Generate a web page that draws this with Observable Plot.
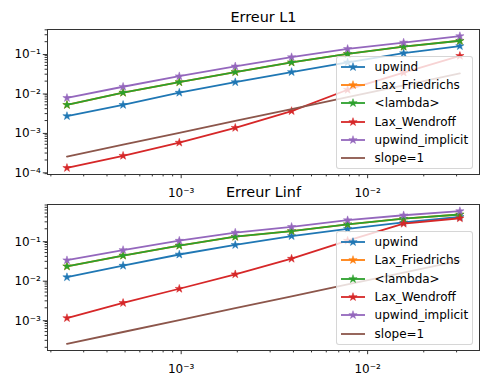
<!DOCTYPE html>
<html><head><meta charset="utf-8">
<script src="https://cdn.jsdelivr.net/npm/d3@7"></script>
<script src="https://cdn.jsdelivr.net/npm/@observablehq/plot@0.6"></script>
<style>
body{margin:0;background:#fff;}
#wrap{position:relative;width:485px;height:383px;font-family:"DejaVu Sans",sans-serif;overflow:hidden;}
#wrap svg.pl{position:absolute;left:0;}
.legend{position:absolute;box-sizing:border-box;border:1px solid rgba(204,204,204,0.8);border-radius:3px;background:rgba(255,255,255,0.8);font-size:12px;color:#000;padding:1px 0 0 4px;}
.legend .row{height:18.3px;display:flex;align-items:center;white-space:nowrap;}
.legend svg{margin-right:9.6px;flex:none;}
</style></head><body><div id="wrap"></div>
<script>
// grid spacing h (x axis)
const h = [0.000244, 0.000488, 0.000977, 0.00195, 0.00391, 0.00781, 0.0156, 0.03125];
const seriesNames = ["upwind", "Lax_Friedrichs", "<lambda>", "Lax_Wendroff", "upwind_implicit", "slope=1"];
const colors = ["#1f77b4", "#ff7f0e", "#2ca02c", "#d62728", "#9467bd", "#8c564b"];
const hasMarker = [true, true, true, true, true, false];

// Erreur L1
const l1Upwind   = [0.0026, 0.0050, 0.0102, 0.0188, 0.034, 0.060, 0.102, 0.155];
const l1LaxFr    = [0.0050, 0.0102, 0.0188, 0.034, 0.0596, 0.098, 0.150, 0.211];
const l1Lambda   = [0.0050, 0.0102, 0.0188, 0.034, 0.0596, 0.098, 0.150, 0.211];
const l1LaxWen   = [0.000126, 0.000256, 0.000552, 0.00131, 0.00348, 0.0121, 0.033, 0.0875];
const l1Implicit = [0.0075, 0.0144, 0.0266, 0.0473, 0.081, 0.131, 0.190, 0.277];
const l1Slope    = [0.000244, 0.000488, 0.000977, 0.00195, 0.00391, 0.00781, 0.0156, 0.03125];

// Erreur Linf
const liUpwind   = [0.0119, 0.0233, 0.0447, 0.078, 0.131, 0.200, 0.290, 0.400];
const liLaxFr    = [0.0224, 0.042, 0.075, 0.126, 0.175, 0.260, 0.360, 0.460];
const liLambda   = [0.0224, 0.042, 0.075, 0.126, 0.175, 0.260, 0.360, 0.460];
const liLaxWen   = [0.0011, 0.00266, 0.00607, 0.0141, 0.035, 0.100, 0.270, 0.370];
const liImplicit = [0.032, 0.058, 0.100, 0.160, 0.224, 0.330, 0.440, 0.560];
const liSlope    = [0.000244, 0.000488, 0.000977, 0.00195, 0.00391, 0.00781, 0.0156, 0.03125];

// tick labels
const xMajor = [1e-3, 1e-2];
const yMajor = [1e-4, 1e-3, 1e-2, 1e-1];
const titles = ["Erreur L1", "Erreur Linf"];

const xDomain = [Math.pow(10, -3.717), Math.pow(10, -1.400)];
const supMap = {"-": "\u207B", "0": "\u2070", "1": "\u00B9", "2": "\u00B2", "3": "\u00B3", "4": "\u2074", "5": "\u2075", "6": "\u2076", "7": "\u2077", "8": "\u2078", "9": "\u2079"};
const fmt = v => "10" + String(Math.round(Math.log10(v))).split("").map(c => supMap[c]).join("");
function minorTicks(domain) {
  const out = [];
  for (let e = -6; e <= 1; e++) for (let m = 2; m <= 9; m++) {
    const v = m * Math.pow(10, e);
    if (v >= domain[0] && v <= domain[1]) out.push(v);
  }
  return out;
}

const markR = 2.6;
function panel(title, series, yDomain, height, marginTop, marginBottom, xPad) {
  const marks = [];
  series.forEach((vals, i) => {
    const data = h.map((x, j) => ({x, y: vals[j]}));
    marks.push(Plot.line(data, {x: "x", y: "y", stroke: colors[i], strokeWidth: 1.8}));
    if (hasMarker[i]) marks.push(Plot.dot(data, {x: "x", y: "y", symbol: "star", fill: colors[i], stroke: colors[i], strokeWidth: 0.5, r: markR}));
  });
  const axisStyle = {stroke: "#333", strokeWidth: 1};
  return Plot.plot({
    width: 485, height, marginLeft: 47, marginRight: 6, marginTop, marginBottom,
    x: {type: "log", domain: xDomain},
    y: {type: "log", domain: yDomain},
    style: {fontFamily: "DejaVu Sans", fontSize: "12px", background: "transparent", color: "#000", overflow: "visible"},
    marks: [
      ...marks,
      Plot.frame({stroke: "#333", strokeWidth: 1}),
      Plot.axisX({ticks: minorTicks(xDomain), tickSize: 2.4, tickFormat: () => "", label: null, ...axisStyle}),
      Plot.axisX({ticks: xMajor, tickSize: 4.2, tickPadding: xPad, tickFormat: fmt, label: null, ...axisStyle}),
      Plot.axisY({ticks: minorTicks(yDomain), tickSize: 2.4, tickFormat: () => "", label: null, ...axisStyle}),
      Plot.axisY({ticks: yMajor.filter(v => v >= yDomain[0] && v <= yDomain[1]), tickSize: 4.2, tickPadding: 2.5, tickFormat: fmt, label: null, dy: 1, ...axisStyle}),
      Plot.text([title], {frameAnchor: "top", dy: -7.3, lineAnchor: "bottom", fontSize: 14.4, fill: "#000"})
    ]
  });
}

const wrap = document.getElementById("wrap");
const top1 = panel(titles[0], [l1Upwind, l1LaxFr, l1Lambda, l1LaxWen, l1Implicit, l1Slope],
  [Math.pow(10, -4.067), Math.pow(10, -0.39)], 200, 29, 26, 10);
top1.classList.add("pl"); top1.style.top = "0px";
wrap.appendChild(top1);
const bot = panel(titles[1], [liUpwind, liLaxFr, liLambda, liLaxWen, liImplicit, liSlope],
  [Math.pow(10, -3.78), Math.pow(10, -0.084)], 200, 21, 33, 9.3);
bot.classList.add("pl"); bot.style.top = "183px";
wrap.appendChild(bot);

const starPath = d3.symbol(d3.symbolStar, Math.PI * markR * markR)();
function legend(top) {
  const div = document.createElement("div");
  div.className = "legend";
  div.style.left = "336px"; div.style.top = top + "px";
  div.style.width = "137px"; div.style.height = "113.5px";
  seriesNames.forEach((name, i) => {
    const row = document.createElement("div");
    row.className = "row";
    row.innerHTML = `<svg width="24" height="12"><line x1="0" x2="24" y1="6" y2="6" stroke="${colors[i]}" stroke-width="1.8"/>` +
      (hasMarker[i] ? `<path transform="translate(12,6)" d="${starPath}" fill="${colors[i]}" stroke="${colors[i]}" stroke-width="0.5"/>` : "") +
      `</svg>`;
    const span = document.createElement("span");
    span.textContent = name;
    row.appendChild(span);
    div.appendChild(row);
  });
  wrap.appendChild(div);
}
legend(55.7);
legend(231);
</script></body></html>
